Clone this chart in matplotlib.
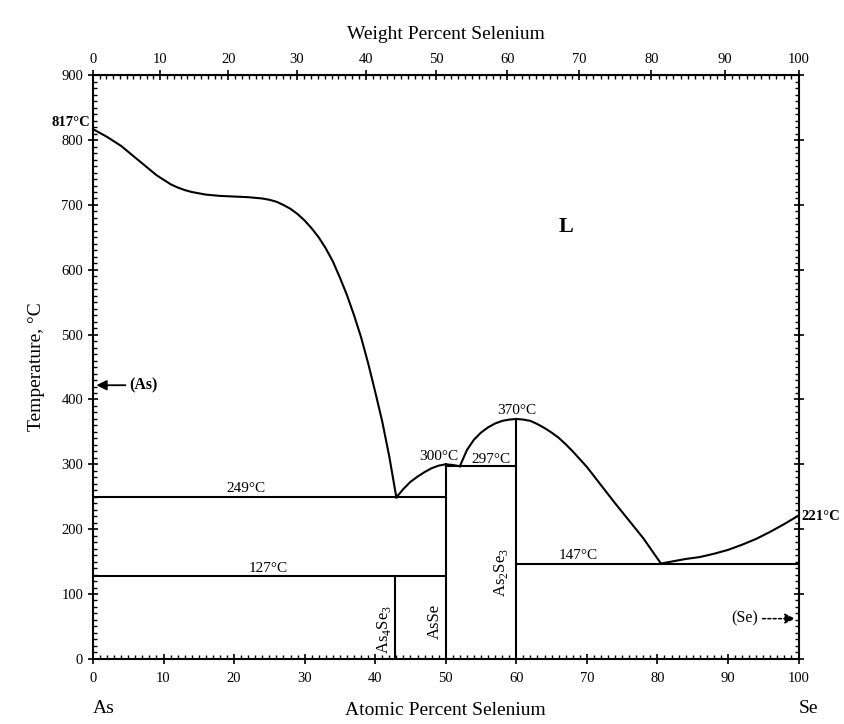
import matplotlib
matplotlib.use("Agg")
import matplotlib.pyplot as plt
from matplotlib.ticker import MultipleLocator
import numpy as np

plt.rcParams['font.family'] = ['Liberation Serif', 'DejaVu Serif']
plt.rcParams['mathtext.fontset'] = 'custom'
plt.rcParams['mathtext.rm'] = 'Liberation Serif'

# ---- data (atomic % Se, temperature in degC) ----
liq_as_x = [0, 1, 2, 3, 4, 5, 6, 7, 8, 9, 10, 11, 12, 13, 14, 16, 18, 20, 22, 24, 25, 26, 27, 28, 29, 30,
            31, 32, 33, 34, 35, 36, 37, 38, 39, 40, 41, 42, 43]
liq_as_t = [817, 811, 805, 798, 791, 782, 773, 764, 755, 746, 739, 732, 727, 723, 720, 716, 714, 713, 712, 710,
            708, 705, 700, 694, 686, 676, 664, 650, 633, 613, 588, 561, 530, 496, 456, 412, 366, 312, 249]

liq_asse_x = [43, 44, 45, 46, 47, 48, 49, 50, 51, 52]
liq_asse_t = [249, 262, 273, 281, 288, 294, 298, 300, 299, 297]

liq_as2se3_x = [52, 53, 54, 55, 56, 57, 58, 59, 60, 61, 62, 63, 64, 65, 66, 67, 68, 70, 72, 74, 76, 78, 80.5]
liq_as2se3_t = [297, 322, 338, 349, 357, 363, 367, 369, 370, 369, 367, 362, 356, 349, 341, 331, 320, 296, 268, 240, 213, 186, 147]

liq_se_x = [80.5, 82, 84, 86, 88, 90, 92, 94, 96, 98, 100]
liq_se_t = [147, 150, 154, 157, 162, 168, 176, 185, 196, 208, 221]

# invariant lines: (x_start, x_end, T)
h_lines = [(0, 50, 249), (0, 50, 127), (50, 60, 297), (60, 100, 147)]
# compound lines: (x, T_top)
v_lines = [(42.86, 127), (50, 300), (60, 370)]

temp_labels = [("249°C", 21.7, 252), ("127°C", 24.8, 130), ("300°C", 49.0, 302),
               ("297°C", 56.4, 298), ("370°C", 60.0, 373), ("147°C", 68.8, 150)]
compounds = [("As$_4$Se$_3$", 41.3, 45), ("AsSe", 48.4, 58), ("As$_2$Se$_3$", 57.8, 134)]

M_AS, M_SE = 74.9216, 78.971


def at2wt(x):
    x = np.asarray(x, dtype=float)
    return 100 * x * M_SE / (x * M_SE + (100 - x) * M_AS)


def wt2at(w):
    w = np.asarray(w, dtype=float)
    return 100 * (w / M_SE) / (w / M_SE + (100 - w) / M_AS)


fig = plt.figure(figsize=(8.45, 7.24), dpi=100)
ax = fig.add_axes([0.110, 0.090, 0.835, 0.806])
lw = 1.5
k = 'black'

for xs, ts in [(liq_as_x, liq_as_t), (liq_asse_x, liq_asse_t),
               (liq_as2se3_x, liq_as2se3_t), (liq_se_x, liq_se_t)]:
    ax.plot(xs, ts, color=k, lw=lw, solid_joinstyle='round')
for x0, x1, t in h_lines:
    ax.plot([x0, x1], [t, t], color=k, lw=lw)
for x, t in v_lines:
    ax.plot([x, x], [0, t], color=k, lw=lw)

ax.set_xlim(0, 100)
ax.set_ylim(0, 900)

fs = 11
for s, x, t in temp_labels:
    ax.text(x, t, s, ha='center', va='bottom', fontsize=fs)
for s, x, t in compounds:
    ax.text(x, t, s, ha='center', va='center', rotation=90, fontsize=12)

ax.text(-0.4, 817, "817°C", ha='right', va='bottom', fontsize=10.5, fontweight='bold')
ax.text(100.4, 219, "221°C", ha='left', va='center', fontsize=10.5, fontweight='bold')
ax.text(67.1, 666, "L", ha='center', va='center', fontsize=16, fontweight='bold')

ax.annotate("", xy=(0.1, 422), xytext=(5.0, 422),
            arrowprops=dict(arrowstyle='-|>', color=k, lw=1.3, mutation_scale=15))
ax.text(5.2, 422, "(As)", ha='left', va='center', fontsize=11.5, fontweight='bold')
ax.annotate("", xy=(99.9, 62), xytext=(94.5, 62),
            arrowprops=dict(arrowstyle='-|>', color=k, lw=1.1, ls=(0, (2, 1.5)), mutation_scale=15))
ax.text(94.3, 62, "(Se)", ha='right', va='center', fontsize=11.5)

# axes styling
for sp in ax.spines.values():
    sp.set_linewidth(1.5)
ax.xaxis.set_major_locator(MultipleLocator(10))
ax.xaxis.set_minor_locator(MultipleLocator(1))
ax.yaxis.set_major_locator(MultipleLocator(100))
ax.yaxis.set_minor_locator(MultipleLocator(10))
ax.tick_params(which='major', direction='inout', length=7, width=1.2, labelsize=10.5,
               top=False, right=True, bottom=True, left=True)
ax.tick_params(which='minor', direction='in', length=3, width=1.0,
               top=False, right=True, bottom=True, left=True)
ax.tick_params(axis='x', pad=6)

sec = ax.secondary_xaxis('top', functions=(at2wt, wt2at))
sec.set_xticks(np.arange(0, 101, 10))
sec.xaxis.set_minor_locator(MultipleLocator(1))
sec.tick_params(which='major', direction='inout', length=7, width=1.2, labelsize=10.5)
sec.tick_params(which='minor', direction='in', length=3, width=1.0)
sec.set_xlabel("Weight Percent Selenium", fontsize=14, labelpad=10)

ax.set_xlabel("Atomic Percent Selenium", fontsize=14, labelpad=12)
ax.set_ylabel("Temperature, °C", fontsize=14, labelpad=12)
ax.text(0, -0.07, "As", transform=ax.transAxes, fontsize=14, ha='left', va='top')
ax.text(1.0, -0.07, "Se", transform=ax.transAxes, fontsize=14, ha='left', va='top')

fig.savefig("out.png", dpi=100)
